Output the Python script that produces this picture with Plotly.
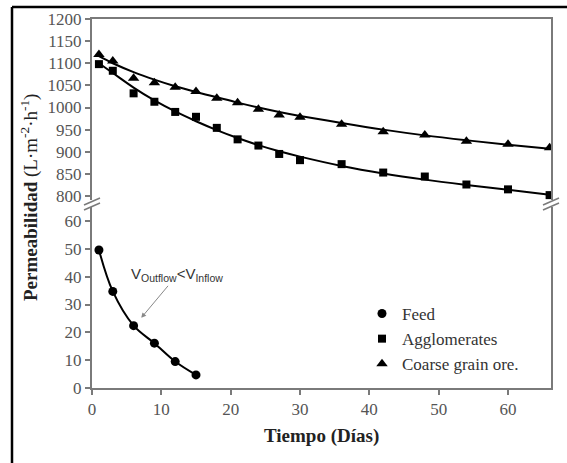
"""
Permeabilidad vs tiempo con eje Y partido
"""

import plotly.graph_objects as go

W, H = 567, 463

# datos (puntos)
dias = [1, 3, 6, 9, 12, 15, 18, 21, 24, 27, 30, 36, 42, 48, 54, 60, 66]
coarse = [1120, 1105, 1066, 1056, 1046, 1036, 1021, 1011, 996, 983, 978,
          962, 945, 938, 924, 917, 909]
aglom = [1098, 1083, 1032, 1013, 990, 979, 954, 928, 914, 895, 881, 872,
         853, 844, 826, 815, 802]
dias_feed = [1, 3, 6, 9, 12, 15]
feed = [49.6, 34.7, 22.4, 16.1, 9.5, 4.7]

# curvas ajustadas (leidas sobre la linea)
coarse_fit = [1116, 1100, 1080, 1063, 1048, 1035, 1023, 1011, 1000, 990, 981,
              965, 950, 937, 926, 916, 907]
aglom_fit = [1100, 1078, 1045, 1016, 991, 969, 949, 931, 915, 901, 889, 868,
             851, 837, 825, 814, 803]

ticks_bajo = [0, 10, 20, 30, 40, 50, 60]
ticks_alto = [800, 850, 900, 950, 1000, 1050, 1100, 1150, 1200]
ticks_x = [0, 10, 20, 30, 40, 50, 60]


def px(x):
    return x / W


def py(y):
    return 1 - y / H


AX = "#7a7a7a"
SERIF = "Liberation Serif, Times New Roman, serif"
TICKFONT = dict(family=SERIF, size=17, color="#555555")

fig = go.Figure()

# curvas
fig.add_trace(go.Scatter(x=dias_feed, y=feed, mode="lines", yaxis="y",
                         line=dict(color="black", width=2, shape="spline"),
                         showlegend=False, hoverinfo="skip"))
fig.add_trace(go.Scatter(x=dias, y=aglom_fit, mode="lines", xaxis="x2", yaxis="y2",
                         line=dict(color="black", width=2, shape="spline"),
                         showlegend=False, hoverinfo="skip"))
fig.add_trace(go.Scatter(x=dias, y=coarse_fit, mode="lines", xaxis="x2", yaxis="y2",
                         line=dict(color="black", width=2, shape="spline"),
                         showlegend=False, hoverinfo="skip"))

# puntos
fig.add_trace(go.Scatter(x=dias_feed, y=feed, mode="markers", name="Feed",
                         marker=dict(symbol="circle", size=9, color="black")))
fig.add_trace(go.Scatter(x=dias, y=aglom, mode="markers", name="Agglomerates",
                         xaxis="x2", yaxis="y2",
                         marker=dict(symbol="square", size=8, color="black")))
fig.add_trace(go.Scatter(x=dias, y=coarse, mode="markers", name="Coarse grain ore.",
                         xaxis="x2", yaxis="y2",
                         marker=dict(symbol="triangle-up", size=10, color="black")))

y_break = 203
dom_x = [px(92), px(551)]

fig.update_layout(
    width=W, height=H, autosize=False,
    margin=dict(l=0, r=0, t=0, b=0, pad=0, autoexpand=False),
    paper_bgcolor="white", plot_bgcolor="white",
    font=dict(family=SERIF),
    xaxis=dict(domain=dom_x, range=[0, 66.2], anchor="y",
               tickvals=ticks_x, ticks="outside", ticklen=5, tickwidth=1.5,
               tickcolor=AX, showline=True, linecolor=AX, linewidth=2,
               showgrid=False, zeroline=False, tickfont=TICKFONT, automargin=False),
    xaxis2=dict(domain=dom_x, range=[0, 66.2], anchor="y2", matches="x",
                side="top", showticklabels=False, ticks="",
                showline=True, linecolor=AX, linewidth=2,
                showgrid=False, zeroline=False, automargin=False),
    yaxis=dict(domain=[py(388), py(y_break)], range=[0, (388 - y_break) / 2.783],
               tickvals=ticks_bajo, ticks="outside", ticklen=5, tickwidth=1.5,
               tickcolor=AX, showline=True, mirror=True, linecolor=AX, linewidth=2,
               showgrid=False, zeroline=False, tickfont=TICKFONT, automargin=False),
    yaxis2=dict(domain=[py(y_break), py(19)],
                range=[1200 - (y_break - 19) / 0.4425, 1200],
                tickvals=ticks_alto, ticks="outside", ticklen=5, tickwidth=1.5,
                tickcolor=AX, showline=True, mirror=True, linecolor=AX, linewidth=2,
                showgrid=False, zeroline=False, tickfont=TICKFONT, anchor="x2",
                automargin=False),
    legend=dict(x=px(362), y=py(296), xanchor="left", yanchor="top",
                bgcolor="rgba(0,0,0,0)", tracegroupgap=0,
                font=dict(family=SERIF, size=17, color="#333333")),
    showlegend=True,
)

# titulos
fig.add_annotation(xref="paper", yref="paper", x=px(321), y=py(436),
                   xanchor="center", yanchor="middle",
                   text="<b>Tiempo (Días)</b>", showarrow=False,
                   font=dict(family=SERIF, size=19, color="#222222"))
fig.add_annotation(xref="paper", yref="paper", x=px(29), y=py(198),
                   xanchor="center", yanchor="middle",
                   text="<b>Permeabilidad</b> (L·m<sup>-2</sup>·h<sup>-1</sup>)",
                   textangle=-90, showarrow=False,
                   font=dict(family=SERIF, size=19, color="#222222"))

# nota con flecha
fig.add_annotation(x=7.1, y=25.2, xref="x", yref="y",
                   text="V<sub>Outflow</sub>&lt;V<sub>Inflow</sub>",
                   ax=36, ay=-43, showarrow=True, arrowhead=2, arrowsize=1,
                   arrowwidth=1, arrowcolor="#888888",
                   font=dict(family="Liberation Sans", size=15, color="#333333"))

# marcas de corte del eje
for xc in (92, 551):
    fig.add_shape(type="line", xref="paper", yref="paper",
                  x0=px(xc), x1=px(xc), y0=py(200), y1=py(207),
                  line=dict(color="white", width=4))
    for dy in (0, 5):
        fig.add_shape(type="line", xref="paper", yref="paper",
                      x0=px(xc - 8), y0=py(205 + dy), x1=px(xc + 8), y1=py(198 + dy),
                      line=dict(color=AX, width=1.5))

# marco exterior
fig.add_shape(type="line", xref="paper", yref="paper",
              x0=px(12), x1=px(12), y0=0, y1=py(7),
              line=dict(color="black", width=2.5))
fig.add_shape(type="line", xref="paper", yref="paper",
              x0=px(12), x1=1, y0=py(7), y1=py(7),
              line=dict(color="black", width=2.5))

fig.write_html("out.html", config={"displayModeBar": False},
               post_script="document.body.style.margin='0px';")
